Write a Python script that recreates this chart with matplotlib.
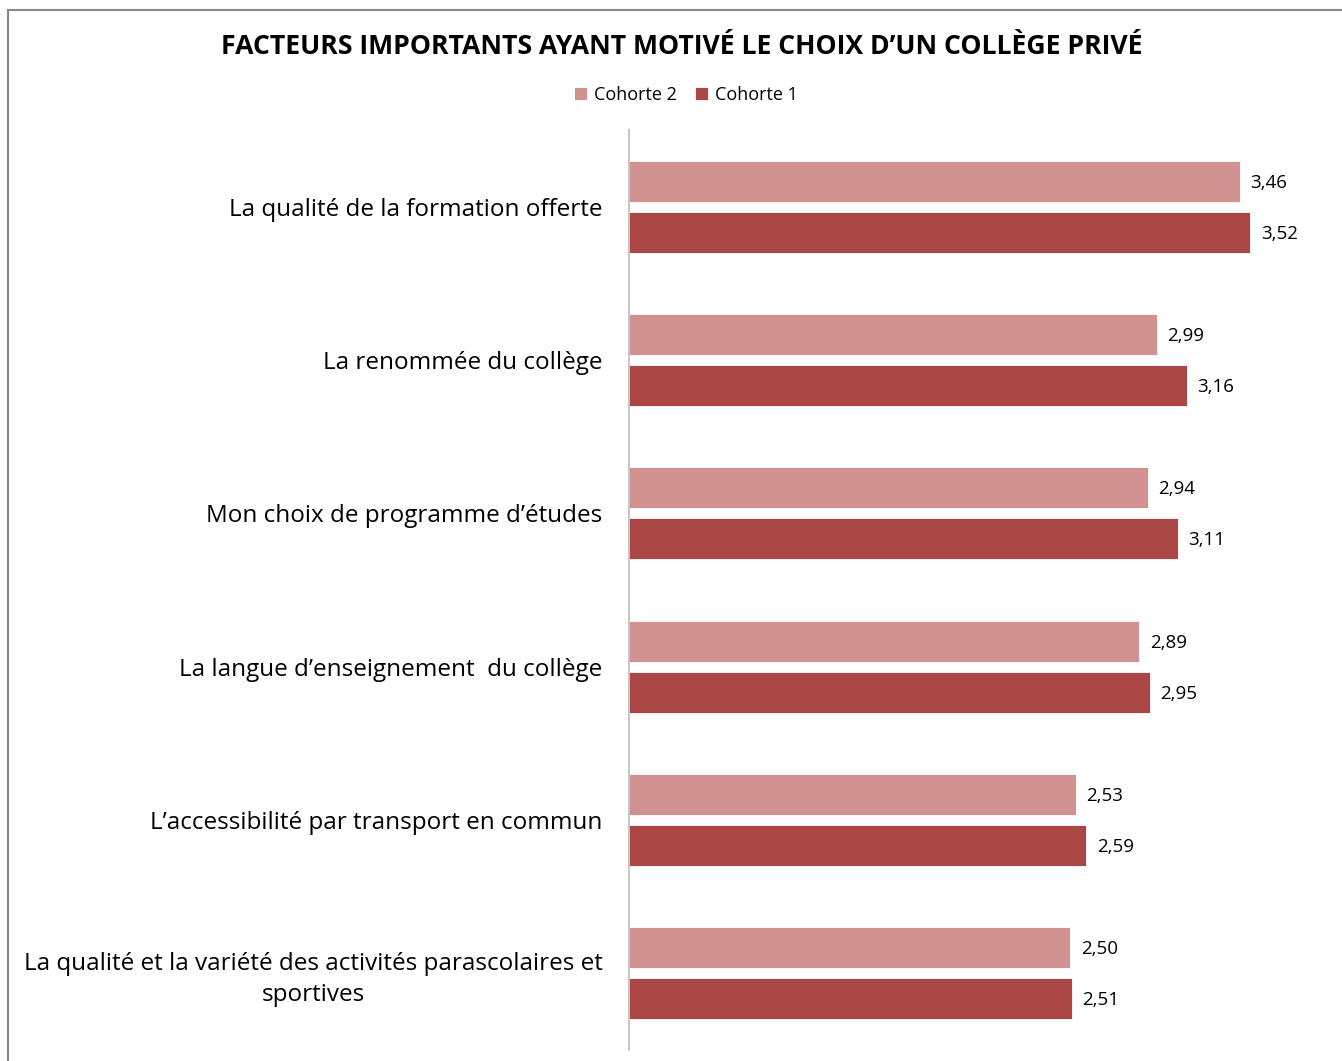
import matplotlib.pyplot as plt
import numpy as np

categories = [
    "La qualité de la formation offerte",
    "La renommée du collège",
    "Mon choix de programme d\u2019études",
    "La langue d\u2019enseignement  du collège",
    "L\u2019accessibilité par transport en commun",
    "La qualité et la variété des activités parascolaires et\nsportives",
]
cohorte2 = [3.46, 2.99, 2.94, 2.89, 2.53, 2.50]
cohorte1 = [3.52, 3.16, 3.11, 2.95, 2.59, 2.51]

c2_color = "#D29191"
c1_color = "#AA4644"

plt.rcParams['font.family'] = ['Open Sans', 'DejaVu Sans']

fig = plt.figure(figsize=(13.42, 10.61), dpi=100)
ax = fig.add_axes([629 / 1342, 1 - 1050 / 1061, (1335 - 629) / 1342, 920 / 1061])

y = np.arange(len(categories))
h = 0.267
off = 0.167
b2 = ax.barh(y - off, cohorte2, height=h, color=c2_color, edgecolor="white", linewidth=0.6, label="Cohorte 2")
b1 = ax.barh(y + off, cohorte1, height=h, color=c1_color, edgecolor="white", linewidth=0.6, label="Cohorte 1")

for bars, vals in [(b2, cohorte2), (b1, cohorte1)]:
    for bar, v in zip(bars, vals):
        ax.text(v + 0.06, bar.get_y() + bar.get_height() / 2 + 0.01, f"{v:.2f}".replace(".", ","),
                va="center", ha="left", fontsize=13.5)

ax.set_xlim(0, 4)
ax.set_ylim(len(categories) - 0.5, -0.5)
ax.set_xticks([])
ax.set_yticks(y)
ax.set_yticklabels(categories, fontsize=17.5, linespacing=1.35, ha="right", multialignment="center")
ax.tick_params(axis="y", length=0, pad=19)
labels = ax.get_yticklabels()
labels[-1].set_y(y[-1] - 0.03)
for s in ["top", "right", "bottom"]:
    ax.spines[s].set_visible(False)
ax.spines["left"].set_color("#BBBBBB")
ax.spines["left"].set_linewidth(1.2)

fig.text(682 / 1342, 1 - 47 / 1061, "FACTEURS IMPORTANTS AYANT MOTIVÉ LE CHOIX D\u2019UN COLLÈGE PRIVÉ",
         ha="center", va="center", fontsize=19.2, fontweight="bold")

ax.legend(handles=[b2, b1], loc="center", bbox_to_anchor=(686 / 1342, 1 - 95 / 1061),
          bbox_transform=fig.transFigure, ncol=2, frameon=False, fontsize=13,
          handlelength=0.7, handleheight=0.7, handletextpad=0.4, columnspacing=1.0)

# outer frame (top and left edges visible)
fig.add_artist(plt.Line2D([8 / 1342, 1], [1 - 10 / 1061, 1 - 10 / 1061], color="#888888", lw=1.5))
fig.add_artist(plt.Line2D([8 / 1342, 8 / 1342], [0, 1 - 10 / 1061], color="#888888", lw=1.5))

fig.savefig("out.png", dpi=100)
